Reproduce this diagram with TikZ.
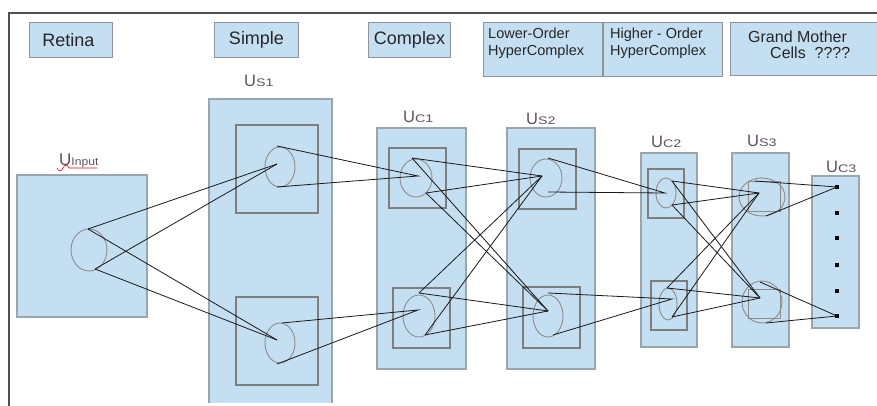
\documentclass[tikz,border=0pt]{standalone}
\usepackage{fontspec}
\setmainfont{Liberation Sans}
\usepackage{graphicx}
\definecolor{fillblue}{HTML}{C5DFF2}
\definecolor{layerborder}{HTML}{9AA6AE}
\definecolor{innerborder}{HTML}{7E7E7E}
\definecolor{ellborder}{HTML}{8C8C8C}
\definecolor{labcol}{HTML}{5E5060}
\definecolor{framecol}{HTML}{505050}
\definecolor{titleborder}{HTML}{8E9499}
\newcommand\ulab[1]{\textcolor{labcol}{\fontsize{16.5}{16.5}\selectfont U\fontsize{11}{11}\selectfont\scalebox{1.3}[1]{#1}}}
\begin{document}
\begin{tikzpicture}[x=1pt,y=-1pt,
  layer/.style={fill=fillblue, draw=layerborder, line width=1.2pt},
  innerbox/.style={draw=innerborder, line width=1.1pt},
  cell/.style={draw=ellborder, line width=0.9pt, fill=fillblue},
  conn/.style={black!90, line width=0.8pt},
  titlebox/.style={fill=fillblue, draw=titleborder, line width=1pt, inner sep=0pt, anchor=north west},
  ttext/.style={anchor=base west, inner sep=0pt, text=black!85},
  lab/.style={anchor=base west, inner sep=0pt},
  dot/.style={fill=black, rectangle, minimum size=4pt, inner sep=0pt}]
\useasboundingbox (0,0) rectangle (877,406);
\clip (0,0) rectangle (877,406);

% frame
\draw[framecol, line width=1.3pt] (9,410) -- (9,13) -- (880,13);

% title boxes
\node[titlebox, minimum width=83pt, minimum height=35pt, font=\fontsize{18}{20}\selectfont, text=black!85] (retina) at (29,22) {Retina\hspace*{5pt}};
\node[titlebox, minimum width=84pt, minimum height=35pt, font=\fontsize{18}{20}\selectfont, text=black!85] (simple) at (214,22) {Simple};
\node[titlebox, minimum width=82pt, minimum height=35pt, font=\fontsize{18}{20}\selectfont, text=black!85] (complex) at (368,22) {Complex};
\node[titlebox, minimum width=119pt, minimum height=54pt] (lower) at (483,22) {};
\node[titlebox, minimum width=119pt, minimum height=54pt] (higher) at (603,22) {};
\node[titlebox, minimum width=150pt, minimum height=53pt] (grand) at (730,22) {};
\node[ttext, font=\fontsize{14.5}{16}\selectfont] (lowerA) at (488,39) {Lower-Order};
\node[ttext, font=\fontsize{14.5}{16}\selectfont] (lowerB) at (488,56) {HyperComplex};
\node[ttext, font=\fontsize{14.5}{16}\selectfont] (higherA) at (610,39) {Higher - Order};
\node[ttext, font=\fontsize{14.5}{16}\selectfont] (higherB) at (610,56) {HyperComplex};
\node[ttext, font=\fontsize{16}{18}\selectfont] (grandA) at (748,43) {Grand Mother};
\node[ttext, font=\fontsize{16}{18}\selectfont] (grandB) at (770,59) {Cells~~????};

% layers
\path[layer] (17,175) rectangle (147,317);
\fill[fillblue] (209,99) rectangle (332,403);
\draw[layerborder, line width=1.2pt] (209,403) -- (209,99) -- (332,99) -- (332,403);
\path[layer] (377,128) rectangle (466,369);
\path[layer] (507,128) rectangle (595,369);
\path[layer] (641,153) rectangle (697,347);
\path[layer] (732,153) rectangle (789,347);
\path[layer] (812,176) rectangle (859,328);

% layer labels
\node[lab] (lin) at (59,166) {\textcolor{labcol}{\fontsize{17}{17}\selectfont U\fontsize{11}{11}\selectfont\scalebox{1.1}[1]{Input}}};
\draw[red, line width=0.6pt] (57,168) sin (60,171) cos (63,168) sin (66,165) cos (69,168) -- (97,168);
\node[lab] (lus1) at (244,87) {\ulab{S1}};
\node[lab] (luc1) at (403,123) {\ulab{C1}};
\node[lab] (lus2) at (526,125) {\ulab{S2}};
\node[lab] (luc2) at (651,148) {\ulab{C2}};
\node[lab] (lus3) at (747,147) {\ulab{S3}};
\node[lab] (luc3) at (826,172) {\ulab{C3}};

% inner boxes
\draw[innerbox] (236,125) rectangle (318,213);
\draw[innerbox] (236,297) rectangle (318,385);
\draw[innerbox] (389,148) rectangle (446,208);
\draw[innerbox] (393,288) rectangle (450,348);
\draw[innerbox] (519,149) rectangle (576,209);
\draw[innerbox] (523,287) rectangle (580,348);
\draw[innerbox] (648,169) rectangle (684,218);
\draw[innerbox] (651,281) rectangle (687,330);

% cells (ellipses)
\draw[cell] (89,250) ellipse [x radius=18, y radius=21];
\draw[cell] (280,167) ellipse [x radius=15, y radius=20];
\draw[cell] (280,343) ellipse [x radius=15, y radius=20];
\draw[cell] (416,178) ellipse [x radius=16, y radius=19];
\draw[cell] (419,316) ellipse [x radius=16, y radius=21];
\draw[cell] (546,178) ellipse [x radius=16, y radius=19];
\draw[cell] (548,316) ellipse [x radius=15, y radius=21];
\draw[cell] (666,193) ellipse [x radius=10, y radius=15];
\draw[cell] (668,304) ellipse [x radius=9, y radius=16];
\draw[cell] (762,197) ellipse [x radius=23, y radius=19];
\draw[cell] (762,302) ellipse [x radius=20, y radius=21];
\draw[ellborder, line width=1pt] (748,181) rectangle (780,211);
\draw[ellborder, line width=1pt] (748,289) rectangle (780,318);

% dots of UC3
\node[dot] (d1) at (837,187) {};
\node[dot] (d2) at (837,213) {};
\node[dot] (d3) at (837,238) {};
\node[dot] (d4) at (837,265) {};
\node[dot] (d5) at (837,291) {};
\node[dot] (d6) at (837,316) {};

% connection points
\coordinate (IT) at (88,229);  \coordinate (IB) at (95,269);
\coordinate (Aa) at (277,164); \coordinate (At) at (277,146); \coordinate (Ab) at (277,187);
\coordinate (Ba) at (277,340); \coordinate (Bt) at (282,323); \coordinate (Bb) at (277,364);
\coordinate (Ca) at (418,176); \coordinate (Ct) at (412,158); \coordinate (Cb) at (426,193);
\coordinate (Da) at (418,310); \coordinate (Dt) at (419,293); \coordinate (Db) at (425,335);
\coordinate (Ea) at (542,176); \coordinate (Et) at (548,158); \coordinate (Eb) at (548,192);
\coordinate (Fa) at (548,311); \coordinate (Ft) at (548,293); \coordinate (Fb) at (553,335);
\coordinate (Ga) at (665,193); \coordinate (Gt) at (672,181); \coordinate (Gb) at (672,205);
\coordinate (Ha) at (672,299); \coordinate (Ht) at (667,288); \coordinate (Hb) at (672,317);
\coordinate (Ia) at (759,193); \coordinate (It) at (755,181); \coordinate (Ib) at (766,216);
\coordinate (Ja) at (760,298); \coordinate (Jt) at (760,282); \coordinate (Jb) at (766,323);

% connectors
\foreach \s in {IT,IB} \foreach \t in {Aa,Ba} \draw[conn] (\s) -- (\t);
\draw[conn] (At) -- (Ca) -- (Ab);
\draw[conn] (Bt) -- (Da) -- (Bb);
\foreach \s in {Ct,Cb,Dt,Db} \foreach \t in {Ea,Fa} \draw[conn] (\s) -- (\t);
\draw[conn] (Et) -- (Ga) -- (Eb);
\draw[conn] (Ft) -- (Ha) -- (Fb);
\foreach \s in {Gt,Gb,Ht,Hb} \foreach \t in {Ia,Ja} \draw[conn] (\s) -- (\t);
\draw[conn] (It) -- (d1.center) -- (Ib);
\draw[conn] (Jt) -- (d6.center) -- (Jb);
\end{tikzpicture}
\end{document}
